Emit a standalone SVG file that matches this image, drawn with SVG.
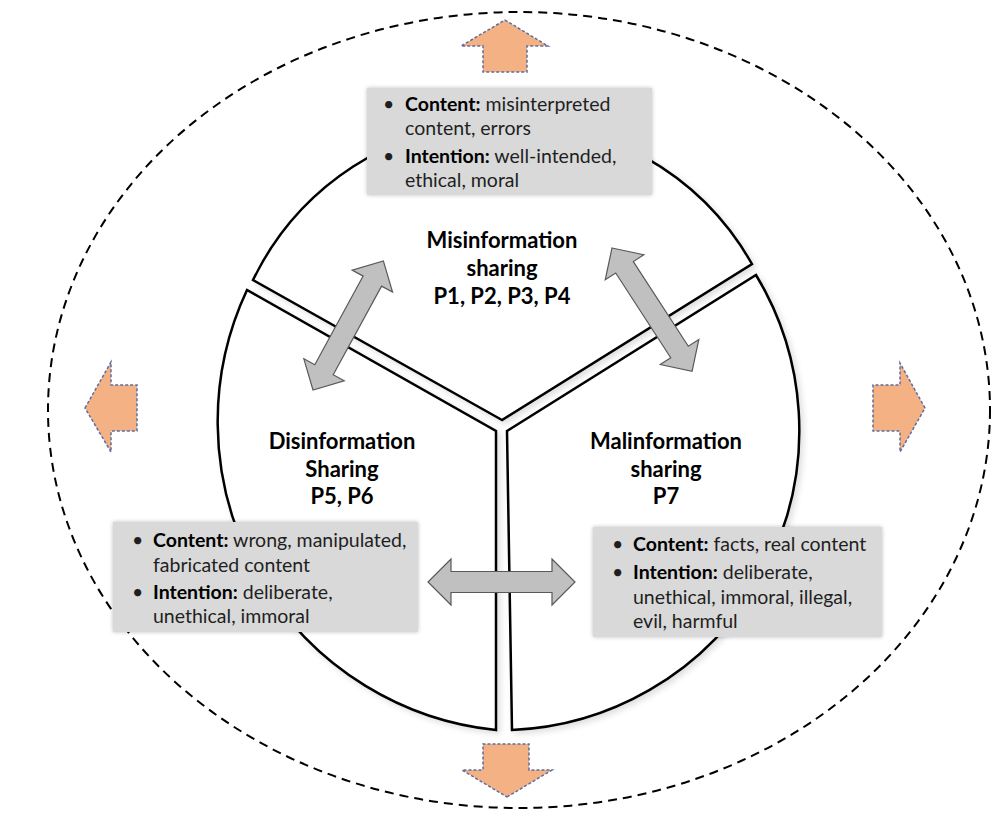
<svg xmlns="http://www.w3.org/2000/svg" width="993" height="813" viewBox="0 0 993 813">
  <style>
    .sector { fill: #ffffff; stroke: #000000; stroke-width: 2.5; stroke-linejoin: miter; }
    .box { fill: #d9d9d9; }
    .title { font-family: Lato, "Open Sans", sans-serif; font-weight: bold; font-size: 22px; fill: #000; text-anchor: middle; }
    .body { font-family: Lato, "Open Sans", sans-serif; font-size: 19.5px; fill: #1f1f1f; }
    .body .b { font-weight: bold; fill: #000; }
    .dbl { fill: #c0c0c0; stroke: #595959; stroke-width: 1.2; stroke-linejoin: miter; }
    .out { fill: #f4b183; stroke: #5b6fa0; stroke-width: 1.5; stroke-dasharray: 3 2; }
  </style>
  <defs>
    <filter id="shade" x="-10%" y="-10%" width="120%" height="120%">
      <feGaussianBlur in="SourceAlpha" stdDeviation="3"/>
      <feOffset dx="3" dy="3"/>
      <feComponentTransfer><feFuncA type="linear" slope="0.13"/></feComponentTransfer>
      <feMerge><feMergeNode/><feMergeNode in="SourceGraphic"/></feMerge>
    </filter>
    <filter id="soft" x="-5%" y="-10%" width="110%" height="120%">
      <feGaussianBlur in="SourceAlpha" stdDeviation="2"/>
      <feComponentTransfer><feFuncA type="linear" slope="0.25"/></feComponentTransfer>
      <feMerge><feMergeNode/><feMergeNode in="SourceGraphic"/></feMerge>
    </filter>
    <!-- double-headed block arrow, 147 long, drawn along +x from 0 -->
    <path id="dblArrow" d="M0,0 L23,-23 L23,-10.5 L124,-10.5 L124,-23 L147,0 L124,23 L124,10.5 L23,10.5 L23,23 Z"/>
  </defs>

  <!-- outer dashed boundary -->
  <ellipse cx="519" cy="410" rx="471" ry="398" fill="none" stroke="#000" stroke-width="2" stroke-dasharray="9 6"/>

  <!-- outward arrows -->
  <g id="out-arrows">
    <path class="out" d="M505,20 L548,46 L527,46 L527,72 L483,72 L483,46 L461,46 Z"/>
    <path class="out" d="M507,797 L552,770 L529,770 L529,744 L483,744 L483,770 L462,770 Z"/>
    <path class="out" d="M85,408 L111,362 L111,385 L137,385 L137,431 L111,431 L111,452 Z"/>
    <path class="out" d="M925,408 L900,363 L900,385 L873,385 L873,431 L900,431 L900,452 Z"/>
  </g>

  <!-- three exploded sectors -->
  <g id="misinformation">
    <path class="sector" filter="url(#shade)" d="M502,420 L253,280 A282,282 0 0 1 752,264 Z"/>
    <text class="title" x="502" y="248">Misinformation</text>
    <text class="title" x="502" y="276">sharing</text>
    <text class="title" x="502" y="304">P1, P2, P3, P4</text>
  </g>
  <g id="disinformation">
    <path class="sector" filter="url(#shade)" d="M496,431 L496,730 A310,310 0 0 1 247,290 Z"/>
    <text class="title" x="342" y="449">Disinformation</text>
    <text class="title" x="342" y="477">Sharing</text>
    <text class="title" x="342" y="504">P5, P6</text>
  </g>
  <g id="malinformation">
    <path class="sector" filter="url(#shade)" d="M507,431 L756,275 A300,300 0 0 1 512,730 Z"/>
    <text class="title" x="666" y="449">Malinformation</text>
    <text class="title" x="666" y="477">sharing</text>
    <text class="title" x="666" y="504">P7</text>
  </g>

  <!-- description boxes -->
  <g id="mis-box">
    <rect class="box" filter="url(#soft)" x="367" y="88" width="285" height="107"/>
    <text class="body" x="383" y="111">•</text>
    <text class="body" x="405" y="111"><tspan class="b">Content:</tspan> misinterpreted</text>
    <text class="body" x="405" y="135">content, errors</text>
    <text class="body" x="383" y="163">•</text>
    <text class="body" x="405" y="163"><tspan class="b">Intention:</tspan> well-intended,</text>
    <text class="body" x="405" y="187">ethical, moral</text>
  </g>
  <g id="dis-box">
    <rect class="box" filter="url(#soft)" x="113" y="522" width="305" height="110"/>
    <text class="body" x="132" y="547">•</text>
    <text class="body" x="153" y="547"><tspan class="b">Content:</tspan> wrong, manipulated,</text>
    <text class="body" x="153" y="572">fabricated content</text>
    <text class="body" x="132" y="599">•</text>
    <text class="body" x="153" y="599"><tspan class="b">Intention:</tspan> deliberate,</text>
    <text class="body" x="153" y="623">unethical, immoral</text>
  </g>
  <g id="mal-box">
    <rect class="box" filter="url(#soft)" x="593" y="527" width="289" height="110"/>
    <text class="body" x="612" y="551">•</text>
    <text class="body" x="633" y="551"><tspan class="b">Content:</tspan> facts, real content</text>
    <text class="body" x="612" y="579">•</text>
    <text class="body" x="633" y="579"><tspan class="b">Intention:</tspan> deliberate,</text>
    <text class="body" x="633" y="604">unethical, immoral, illegal,</text>
    <text class="body" x="633" y="628">evil, harmful</text>
  </g>

  <!-- connectors between categories -->
  <g id="connectors">
    <use href="#dblArrow" class="dbl" transform="translate(313,390) rotate(-61.4)"/>
    <use href="#dblArrow" class="dbl" transform="translate(612,248) rotate(57)"/>
    <use href="#dblArrow" class="dbl" transform="translate(428,582)"/>
  </g>
</svg>
